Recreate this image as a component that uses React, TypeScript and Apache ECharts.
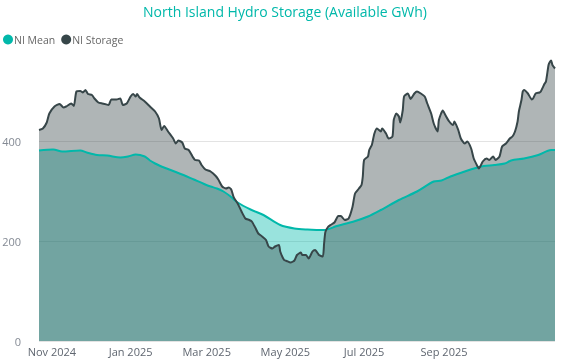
import React, { useEffect, useRef } from "react";
import * as echarts from "echarts";

const titleText = "North Island Hydro Storage (Available GWh)";
const seriesNames = ["NI Mean", "NI Storage"];
const xTickLabels = ["Nov 2024", "Jan 2025", "Mar 2025", "May 2025", "Jul 2025", "Sep 2025"];
const yTicks = [0, 200, 400];
const xMin = "2024-10-22";
const xMax = "2025-11-26";

const storageDates = [
  "2024-10-22", "2024-10-25", "2024-10-28", "2024-10-30", "2024-11-03", "2024-11-07", "2024-11-10", "2024-11-12",
  "2024-11-16", "2024-11-18", "2024-11-20", "2024-11-23", "2024-11-25", "2024-11-27", "2024-11-29", "2024-12-02",
  "2024-12-04", "2024-12-07", "2024-12-10", "2024-12-12", "2024-12-15", "2024-12-17", "2024-12-21", "2024-12-24",
  "2024-12-26", "2024-12-29", "2025-01-01", "2025-01-03", "2025-01-05", "2025-01-06", "2025-01-08", "2025-01-12",
  "2025-01-16", "2025-01-20", "2025-01-23", "2025-01-25", "2025-01-27", "2025-01-30", "2025-02-03", "2025-02-05",
  "2025-02-07", "2025-02-10", "2025-02-12", "2025-02-15", "2025-02-18", "2025-02-20", "2025-02-23", "2025-02-25",
  "2025-02-28", "2025-03-04", "2025-03-08", "2025-03-10", "2025-03-13", "2025-03-16", "2025-03-18", "2025-03-20",
  "2025-03-22", "2025-03-25", "2025-03-28", "2025-03-31", "2025-04-03", "2025-04-05", "2025-04-08", "2025-04-10",
  "2025-04-13", "2025-04-16", "2025-04-18", "2025-04-21", "2025-04-23", "2025-04-26", "2025-04-27", "2025-04-30",
  "2025-05-02", "2025-05-05", "2025-05-08", "2025-05-10", "2025-05-13", "2025-05-14", "2025-05-17", "2025-05-19",
  "2025-05-22", "2025-05-24", "2025-05-27", "2025-05-30", "2025-05-31", "2025-06-01", "2025-06-03", "2025-06-05",
  "2025-06-08", "2025-06-11", "2025-06-13", "2025-06-16", "2025-06-19", "2025-06-22", "2025-06-24", "2025-06-27",
  "2025-06-29", "2025-06-30", "2025-07-01", "2025-07-04", "2025-07-05", "2025-07-07", "2025-07-09", "2025-07-11",
  "2025-07-14", "2025-07-15", "2025-07-18", "2025-07-20", "2025-07-23", "2025-07-24", "2025-07-26", "2025-07-28",
  "2025-07-29", "2025-07-31", "2025-08-01", "2025-08-04", "2025-08-06", "2025-08-09", "2025-08-11", "2025-08-14",
  "2025-08-17", "2025-08-19", "2025-08-22", "2025-08-24", "2025-08-27", "2025-08-28", "2025-08-31", "2025-09-02",
  "2025-09-05", "2025-09-08", "2025-09-09", "2025-09-12", "2025-09-14", "2025-09-17", "2025-09-19", "2025-09-22",
  "2025-09-24", "2025-09-27", "2025-09-28", "2025-10-01", "2025-10-04", "2025-10-06", "2025-10-09", "2025-10-11",
  "2025-10-14", "2025-10-16", "2025-10-19", "2025-10-22", "2025-10-24", "2025-10-26", "2025-10-28", "2025-10-29",
  "2025-10-31", "2025-11-01", "2025-11-02", "2025-11-05", "2025-11-08", "2025-11-09", "2025-11-11", "2025-11-14",
  "2025-11-15", "2025-11-18", "2025-11-19", "2025-11-21", "2025-11-22", "2025-11-23", "2025-11-24", "2025-11-26",
];
const storageValues = [
  422, 425, 437, 455, 469, 474, 467, 469,
  475, 470, 499, 500, 497, 502, 494, 492,
  485, 477, 475, 474, 472, 483, 483, 485,
  472, 475, 489, 494, 489, 494, 487, 479,
  469, 459, 445, 422, 430, 419, 405, 395,
  401, 397, 385, 382, 369, 362, 361, 352,
  343, 339, 330, 323, 309, 305, 307, 303,
  287, 275, 259, 245, 242, 239, 225, 215,
  209, 202, 189, 185, 189, 192, 179, 162,
  160, 157, 161, 172, 177, 172, 172, 165,
  179, 182, 172, 169, 195, 218, 228, 232,
  237, 250, 250, 242, 245, 268, 295, 305,
  312, 329, 362, 369, 382, 392, 415, 425,
  419, 425, 415, 405, 409, 442, 455, 449,
  437, 462, 489, 495, 484, 495, 499, 495,
  489, 475, 455, 435, 419, 442, 461, 452,
  439, 432, 439, 422, 405, 395, 399, 385,
  365, 349, 345, 359, 365, 362, 369, 362,
  369, 389, 395, 405, 409, 419, 439, 459,
  482, 499, 502, 495, 483, 485, 495, 497,
  499, 515, 519, 552, 558, 561, 552, 545,
];

const meanDates = [
  "2024-10-22", "2024-11-02", "2024-11-09", "2024-11-23", "2024-11-28", "2024-12-06", "2024-12-14", "2024-12-24",
  "2024-12-30", "2025-01-05", "2025-01-12", "2025-01-16", "2025-01-20", "2025-01-24", "2025-01-29", "2025-02-03",
  "2025-02-11", "2025-02-19", "2025-02-27", "2025-03-04", "2025-03-09", "2025-03-14", "2025-03-19", "2025-03-25",
  "2025-04-04", "2025-04-14", "2025-04-27", "2025-05-08", "2025-05-18", "2025-05-31", "2025-06-10", "2025-06-23",
  "2025-07-04", "2025-07-14", "2025-07-28", "2025-08-11", "2025-08-24", "2025-08-30", "2025-09-06", "2025-09-17",
  "2025-09-27", "2025-10-02", "2025-10-10", "2025-10-18", "2025-10-23", "2025-11-02", "2025-11-13", "2025-11-23",
  "2025-11-26",
];
const meanValues = [
  381, 383, 379, 381, 377, 372, 371, 367,
  369, 373, 369, 361, 355, 350, 345, 340,
  332, 323, 314, 309, 305, 299, 290, 277,
  263, 252, 232, 225, 223, 222, 230, 239,
  249, 262, 282, 299, 319, 321, 329, 339,
  347, 350, 352, 355, 361, 365, 372, 382,
  382,
];

const TEAL = "#01B8AA";
const DARK = "#374649";
const FONT = "'Segoe UI', 'Open Sans', sans-serif";

export default function App() {
  const ref = useRef<HTMLDivElement>(null);
  useEffect(() => {
    if (!ref.current) return;
    const chart = echarts.init(ref.current, undefined, { renderer: "svg" });
    const storageData = storageDates.map((d, i) => [d, storageValues[i]]);
    const meanData = meanDates.map((d, i) => [d, meanValues[i]]);
    const monthNames = ["Jan", "Feb", "Mar", "Apr", "May", "Jun", "Jul", "Aug", "Sep", "Oct", "Nov", "Dec"];
    chart.setOption({
      animation: false,
      textStyle: { fontFamily: FONT },
      title: {
        text: titleText,
        left: "center",
        top: 4,
        padding: 0,
        textStyle: { color: TEAL, fontSize: 14, fontWeight: "normal", fontFamily: FONT },
      },
      legend: {
        left: 3,
        top: 34,
        padding: 0,
        icon: "circle",
        itemWidth: 10,
        itemHeight: 10,
        itemGap: 6,
        data: seriesNames,
        textStyle: { color: "#666666", fontSize: 10.5, fontFamily: FONT, padding: [0, 0, 0, -4] },
      },
      grid: { left: 39, right: 15, top: 41, bottom: 20, containLabel: false, outerBoundsMode: "none" },
      xAxis: {
        type: "time",
        min: xMin,
        max: xMax,
        splitNumber: 5,
        axisLine: { show: false },
        axisTick: { show: false },
        splitLine: { show: false },
        axisLabel: {
          color: "#5f6670",
          fontSize: 11,
          margin: 5,
          hideOverlap: false,
          formatter: (val: number) => {
            const d = new Date(val);
            const s = monthNames[d.getMonth()] + " " + d.getFullYear();
            return xTickLabels.indexOf(s) >= 0 ? s : "";
          },
        },
      },
      yAxis: {
        type: "value",
        min: 0,
        max: 600,
        interval: 200,
        axisLine: { show: false },
        axisTick: { show: false },
        axisLabel: {
          color: "#848a94",
          fontSize: 11,
          margin: 18,
          showMaxLabel: false,
          formatter: (v: number) => (yTicks.indexOf(v) >= 0 ? String(v) : ""),
        },
        splitLine: { show: true, showMaxLine: false, lineStyle: { color: "#e3e3e3", width: 1 } },
      },
      series: [
        {
          name: seriesNames[0],
          type: "line",
          data: meanData,
          smooth: 0.3,
          symbol: "none",
          itemStyle: { color: TEAL },
          lineStyle: { width: 0, color: TEAL },
          areaStyle: { color: TEAL, opacity: 0.4 },
          z: 1,
        },
        {
          name: seriesNames[1],
          type: "line",
          data: storageData,
          smooth: 0.2,
          symbol: "none",
          itemStyle: { color: DARK },
          lineStyle: { width: 0, color: DARK },
          areaStyle: { color: DARK, opacity: 0.4 },
          z: 2,
        },
        {
          name: seriesNames[0],
          type: "line",
          data: meanData,
          smooth: 0.3,
          symbol: "none",
          itemStyle: { color: TEAL },
          lineStyle: { width: 2, color: TEAL },
          z: 3,
        },
        {
          name: seriesNames[1],
          type: "line",
          data: storageData,
          smooth: 0.2,
          symbol: "none",
          itemStyle: { color: DARK },
          lineStyle: { width: 2, color: DARK },
          z: 4,
        },
      ],
    });
    return () => chart.dispose();
  }, []);
  return (
    <div
      ref={ref}
      style={{ position: "fixed", left: 0, top: 0, width: 570, height: 361 }}
    />
  );
}
